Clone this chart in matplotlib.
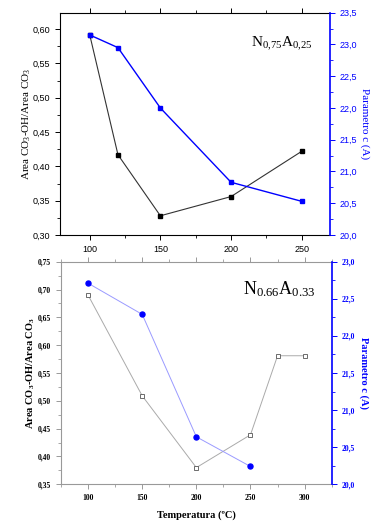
import numpy as np
import matplotlib
matplotlib.use("Agg")
import matplotlib.pyplot as plt
from matplotlib.ticker import MultipleLocator, FuncFormatter

plt.rcParams["mathtext.fontset"] = "custom"
plt.rcParams["mathtext.rm"] = "Liberation Serif"
plt.rcParams["mathtext.it"] = "Liberation Serif:italic"
plt.rcParams["mathtext.bf"] = "Liberation Serif:bold"

# panel superior: N0.75A0.25
temp_a = [100, 120, 150, 200, 250]
area_a = [0.592, 0.417, 0.328, 0.356, 0.422]
param_a = [23.15, 22.95, 22.0, 20.83, 20.53]

# panel inferior: N0.66A0.33
temp_b_area = [100, 150, 200, 250, 275, 300]
area_b = [0.690, 0.509, 0.380, 0.439, 0.581, 0.581]
temp_b_param = [100, 150, 200, 250]
param_b = [22.71, 22.29, 20.64, 20.24]

BLUE = "#0000ff"
W, H = 375, 530


def comma(fmt):
    return FuncFormatter(lambda v, p: (fmt % v).replace(".", ","))


def style_axes(ax, ax2, left_col, tick_font, tick_size, bold):
    weight = "bold" if bold else "normal"
    for s in ["left", "top", "bottom"]:
        ax.spines[s].set_color(left_col)
    ax.spines["right"].set_visible(False)
    ax2.spines["right"].set_color(BLUE)
    ax2.spines["right"].set_linewidth(1.2)
    for s in ["left", "top", "bottom"]:
        ax2.spines[s].set_visible(False)
    ax.tick_params(axis="both", which="both", direction="out", colors=left_col,
                   labelcolor="black", top=True, labeltop=False)
    ax.tick_params(which="major", length=3.5, width=0.7)
    ax.tick_params(which="minor", length=2, width=0.6)
    ax2.tick_params(axis="y", which="both", direction="out", colors=BLUE, labelcolor=BLUE)
    ax2.tick_params(which="major", length=3.5, width=0.7)
    ax2.tick_params(which="minor", length=2, width=0.6)
    for lab in ax.get_xticklabels() + ax.get_yticklabels() + ax2.get_yticklabels():
        lab.set_fontfamily(tick_font)
        lab.set_fontsize(tick_size)
        lab.set_fontweight(weight)


fig = plt.figure(figsize=(W / 100, H / 100), dpi=100)

# ---- panel superior ----
ax = fig.add_axes([60 / W, 1 - 235 / H, 270 / W, 222.3 / H])
ax2 = ax.twinx()
ax.plot(temp_a, area_a, color="#333333", lw=0.8, marker="s", ms=3.4,
        mfc="black", mec="black", zorder=3)
ax2.plot(temp_a, param_a, color=BLUE, lw=1.0, marker="s", ms=3.4,
         mfc=BLUE, mec=BLUE, zorder=3)
ax.set_xlim(79, 270)
ax.set_ylim(0.30, 0.624)
ax2.set_ylim(20.0, 23.5)
ax.xaxis.set_major_locator(MultipleLocator(50))
ax.xaxis.set_minor_locator(MultipleLocator(25))
ax.yaxis.set_major_locator(MultipleLocator(0.05))
ax.yaxis.set_minor_locator(MultipleLocator(0.025))
ax2.yaxis.set_major_locator(MultipleLocator(0.5))
ax2.yaxis.set_minor_locator(MultipleLocator(0.25))
ax.yaxis.set_major_formatter(comma("%.2f"))
ax2.yaxis.set_major_formatter(comma("%.1f"))
style_axes(ax, ax2, "black", "Liberation Sans", 6.5, False)
ax.set_ylabel(r"Area CO$_\mathrm{3}$-OH/Area CO$_\mathrm{3}$",
              fontfamily="Liberation Serif", fontsize=8, labelpad=0)
ax2.set_ylabel("Parametro c (A)", fontfamily="Liberation Serif", fontsize=8,
               color=BLUE, rotation=270, labelpad=9)
ax.text(0.935, 0.86, r"$\mathrm{N_{0{,}75}A_{0{,}25}}$", transform=ax.transAxes,
        ha="right", va="center", fontsize=11)

# ---- panel inferior ----
bx = fig.add_axes([61 / W, 1 - 484.3 / H, 270.7 / W, 222.6 / H])
bx2 = bx.twinx()
bx.plot(temp_b_area, area_b, color="#aaaaaa", lw=0.7, marker="s", ms=3.2,
        mfc="white", mec="#555555", mew=0.6, zorder=3)
bx2.plot(temp_b_param, param_b, color="#9a9aff", lw=0.7, marker="o", ms=3.6,
         mfc=BLUE, mec=BLUE, zorder=3)
bx.set_xlim(75, 325)
bx.set_ylim(0.35, 0.75)
bx2.set_ylim(20.0, 23.0)
bx.xaxis.set_major_locator(MultipleLocator(50))
bx.xaxis.set_minor_locator(MultipleLocator(25))
bx.yaxis.set_major_locator(MultipleLocator(0.05))
bx.yaxis.set_minor_locator(MultipleLocator(0.025))
bx2.yaxis.set_major_locator(MultipleLocator(0.5))
bx2.yaxis.set_minor_locator(MultipleLocator(0.25))
bx.yaxis.set_major_formatter(comma("%.2f"))
bx2.yaxis.set_major_formatter(comma("%.1f"))
style_axes(bx, bx2, "#999999", "Liberation Serif", 5.5, True)
bx.set_xlabel("Temperatura (\u00baC)", fontfamily="Liberation Serif",
              fontsize=7.5, fontweight="bold", labelpad=6)
bx.set_ylabel(r"Area CO$_\mathbf{3}$-OH/Area CO$_\mathbf{3}$",
              fontfamily="Liberation Serif", fontsize=7.5, fontweight="bold",
              labelpad=1)
bx2.set_ylabel("Parametro c (A)", fontfamily="Liberation Serif", fontsize=7.5,
               fontweight="bold", color=BLUE, rotation=270, labelpad=10)
bx.text(0.94, 0.875, r"$\mathrm{N_{0.66}A_{0.33}}$", transform=bx.transAxes,
        ha="right", va="center", fontsize=13)

fig.savefig("out.png", dpi=100)
